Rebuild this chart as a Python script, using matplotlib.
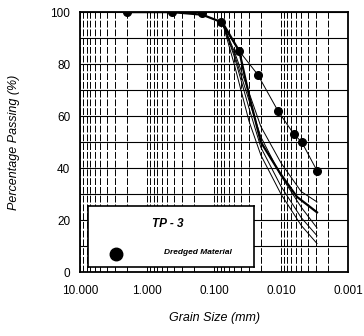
import matplotlib
matplotlib.use("Agg")
import matplotlib.pyplot as plt
from matplotlib.ticker import FixedLocator, LogLocator, NullFormatter

plt.rcParams['font.family'] = ['Liberation Sans', 'DejaVu Sans']

# measured points (TP-3, dredged material)
grain_mm = [2.0, 0.425, 0.15, 0.079, 0.042, 0.0223, 0.0111, 0.0064, 0.0049, 0.0029]
passing = [100, 100, 99.5, 96, 85, 76, 62, 53, 50, 39]

# envelope curves
curve_d = [0.075, 0.05, 0.03, 0.02, 0.01, 0.005, 0.0029]
thick_d = [2.0, 0.425, 0.15, 0.075, 0.042, 0.030, 0.020, 0.0103, 0.0058, 0.0029]
thick_p = [100, 100, 99, 96, 85, 68, 50, 38, 29, 23]
thin_curves = [
    [96, 80, 58, 45, 30, 18, 11],
    [96, 83, 63, 48, 33, 21, 14],
    [96, 84, 66, 52, 37, 25, 17],
    [96, 85, 69, 56, 42, 31, 27],
]

x_ticks = [10, 1, 0.1, 0.01, 0.001]
x_labels = ["10.000", "1.000", "0.100", "0.010", "0.001"]
y_ticks = [0, 20, 40, 60, 80, 100]

fig = plt.figure(figsize=(3.64, 3.36), dpi=100)
ax = fig.add_axes([0.22, 0.19, 0.736, 0.774])

ax.set_xscale('log')
ax.set_xlim(10, 0.001)
ax.set_ylim(0, 100)

ax.xaxis.set_major_locator(FixedLocator(x_ticks))
ax.set_xticklabels(x_labels)
ax.xaxis.set_minor_locator(LogLocator(base=10, subs=range(2, 10)))
ax.xaxis.set_minor_formatter(NullFormatter())
ax.set_yticks(y_ticks)
ax.set_yticks(range(10, 100, 20), minor=True)

ax.grid(True, which='both', axis='x', color='black', lw=0.7, ls=(0, (7, 2)))
ax.grid(True, which='both', axis='y', color='black', lw=0.8)
ax.tick_params(which='both', length=0, labelsize=8.5)
ax.tick_params(axis='x', pad=9)
ax.tick_params(axis='y', pad=7)

for s in ax.spines.values():
    s.set_linewidth(1.3)

for p in thin_curves:
    ax.plot(curve_d, p, color='black', lw=0.7, zorder=3)
ax.plot(thick_d, thick_p, color='black', lw=1.6, zorder=3)
ax.plot(grain_mm[3:], passing[3:], color='black', lw=0.7, zorder=3)
ax.plot(grain_mm, passing, 'o', color='black', ms=5.5, zorder=4)

ax.set_xlabel('Grain Size (mm)', fontsize=9, style='italic', labelpad=11)
ax.set_ylabel('Percentage Passing (%)', fontsize=9, style='italic', labelpad=22)

# legend box
box = ax.inset_axes([0.03, 0.02, 0.62, 0.235])
box.set_xlim(0, 1)
box.set_ylim(0, 1)
box.set_xticks([])
box.set_yticks([])
box.set_facecolor('white')
for s in box.spines.values():
    s.set_linewidth(1.2)
box.text(0.48, 0.7, 'TP - 3', ha='center', va='center', fontsize=8.5,
         style='italic', weight='bold')
box.plot([0.17], [0.22], 'o', color='black', ms=9)
box.text(0.66, 0.24, 'Dredged Material', ha='center', va='center', fontsize=6,
         style='italic', weight='bold')

fig.savefig('out.png', dpi=100)
